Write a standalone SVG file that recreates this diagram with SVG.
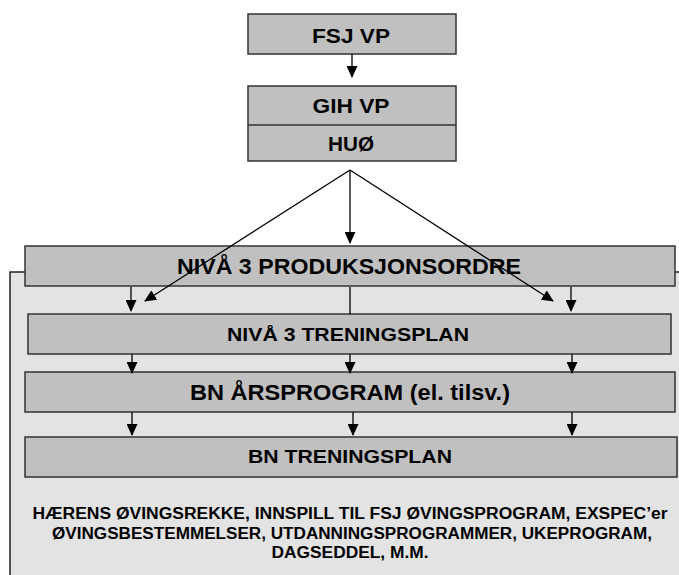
<svg xmlns="http://www.w3.org/2000/svg" width="679" height="575" viewBox="0 0 679 575">
<style>
.box{fill:#c0c0c0;stroke:#333;stroke-width:1.5}
.panel{fill:#e3e3e3;stroke:#222;stroke-width:1.5}
.t{font-family:"Liberation Sans",Arial,sans-serif;font-weight:bold;fill:#000;text-anchor:middle}
.c{stroke:#000;stroke-width:1.3;fill:none}
.a{marker-end:url(#ah)}
</style>
<defs>
<marker id="ah" markerUnits="userSpaceOnUse" markerWidth="12" markerHeight="11" refX="11" refY="5.5" orient="auto"><path d="M0,0 L12,5.5 L0,11 z" fill="#000"/></marker>
</defs>
<rect x="0" y="0" width="679" height="575" fill="#fff"/>
<g id="panel"><rect class="panel" x="10" y="272" width="690" height="320"/></g>
<g id="fsj"><rect class="box" x="248" y="14" width="208" height="40"/><text class="t" x="351" y="43" font-size="20" textLength="78" lengthAdjust="spacingAndGlyphs">FSJ VP</text></g>
<g id="gih"><rect class="box" x="248" y="86" width="208" height="75"/><line x1="248" y1="125" x2="456" y2="125" stroke="#333" stroke-width="1.5"/><text class="t" x="351" y="113" font-size="20" textLength="77" lengthAdjust="spacingAndGlyphs">GIH VP</text><text class="t" x="351" y="151" font-size="20" textLength="46" lengthAdjust="spacingAndGlyphs">HUØ</text></g>
<g id="prod"><rect class="box" x="25" y="246" width="650" height="40"/><text class="t" x="349" y="274" font-size="22" textLength="344" lengthAdjust="spacingAndGlyphs">NIVÅ 3 PRODUKSJONSORDRE</text></g>
<g id="n3tp"><rect class="box" x="28" y="314" width="643" height="40"/><text class="t" x="348" y="341" font-size="17.5" textLength="242" lengthAdjust="spacingAndGlyphs">NIVÅ 3 TRENINGSPLAN</text></g>
<g id="bnar"><rect class="box" x="25" y="372" width="650" height="40"/><text class="t" x="350" y="400" font-size="22" textLength="320" lengthAdjust="spacingAndGlyphs">BN ÅRSPROGRAM (el. tilsv.)</text></g>
<g id="bntp"><rect class="box" x="25" y="437" width="652" height="40"/><text class="t" x="350" y="463" font-size="17.5" textLength="204" lengthAdjust="spacingAndGlyphs">BN TRENINGSPLAN</text></g>
<g id="note">
<text class="t" x="350" y="519" font-size="16" textLength="635" lengthAdjust="spacingAndGlyphs">HÆRENS ØVINGSREKKE, INNSPILL TIL FSJ ØVINGSPROGRAM, EXSPEC’er</text>
<text class="t" x="352" y="539" font-size="16" textLength="600" lengthAdjust="spacingAndGlyphs">ØVINGSBESTEMMELSER, UTDANNINGSPROGRAMMER, UKEPROGRAM,</text>
<text class="t" x="350" y="558" font-size="16" textLength="157" lengthAdjust="spacingAndGlyphs">DAGSEDDEL, M.M.</text>
</g>
<g id="connectors" class="c">
<path class="a" d="M352,54 V77"/>
<path class="a" d="M350,170 V243"/>
<path class="a" d="M350,170 L145,301"/>
<path class="a" d="M350,170 L553,301"/>
<path class="a" d="M131,287 V311"/>
<path class="a" d="M571,287 V311"/>
<path d="M350,287 V314"/>
<path class="a" d="M132,354 V373"/>
<path class="a" d="M350,354 V373"/>
<path class="a" d="M572,354 V373"/>
<path class="a" d="M132,412 V435"/>
<path class="a" d="M353,412 V435"/>
<path class="a" d="M572,412 V435"/>
</g>
</svg>
